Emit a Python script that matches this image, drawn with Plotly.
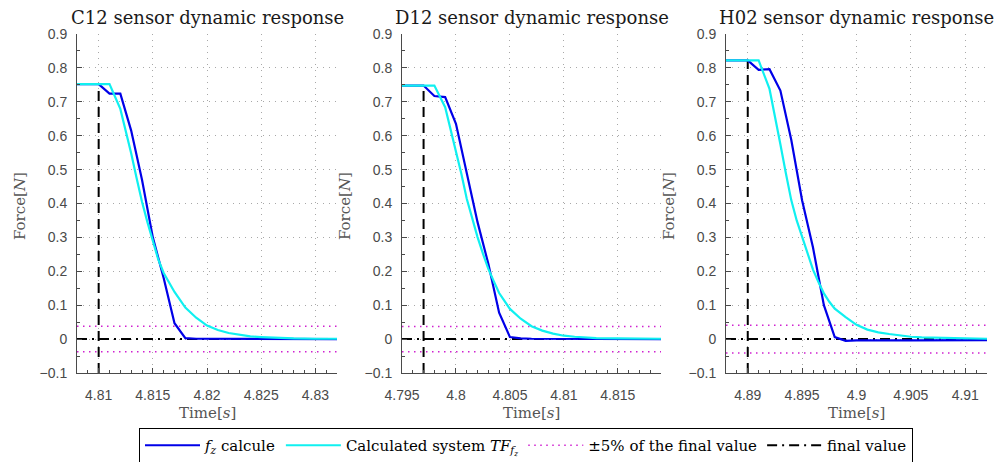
import plotly.graph_objects as go

# ---------------- data ----------------
titles = ["C12 sensor dynamic response", "D12 sensor dynamic response", "H02 sensor dynamic response"]

# C12
c12_fz_t = [4.808, 4.809, 4.810, 4.811, 4.812, 4.813, 4.814, 4.815, 4.816, 4.817, 4.818, 4.819, 4.820, 4.822, 4.826, 4.832]
c12_fz_v = [0.752, 0.752, 0.752, 0.724, 0.724, 0.615, 0.470, 0.300, 0.180, 0.047, 0.003, 0.001, 0.001, 0.000, 0.000, 0.000]
c12_tf_t = [4.808, 4.811, 4.812, 4.8125, 4.813, 4.8135, 4.814, 4.8145, 4.815, 4.8155, 4.816, 4.8165, 4.817,
            4.818, 4.819, 4.820, 4.821, 4.822, 4.823, 4.824, 4.825, 4.826, 4.828, 4.830, 4.832]
c12_tf_v = [0.752, 0.752, 0.679, 0.615, 0.548, 0.475, 0.405, 0.345, 0.290, 0.235, 0.195, 0.165, 0.139,
            0.093, 0.063, 0.040, 0.027, 0.018, 0.012, 0.008, 0.006, 0.004, 0.002, 0.001, 0.001]

# D12
d12_fz_t = [4.795, 4.797, 4.798, 4.799, 4.800, 4.801, 4.802, 4.803, 4.804, 4.805, 4.806, 4.807, 4.819]
d12_fz_v = [0.748, 0.748, 0.717, 0.714, 0.635, 0.493, 0.345, 0.222, 0.078, 0.006, 0.002, 0.001, 0.000]
d12_tf_t = [4.795, 4.798, 4.799, 4.7995, 4.800, 4.8005, 4.801, 4.8015, 4.802, 4.8025, 4.803, 4.8035, 4.804,
            4.805, 4.806, 4.807, 4.808, 4.809, 4.810, 4.811, 4.812, 4.813, 4.815, 4.817, 4.819]
d12_tf_v = [0.748, 0.748, 0.684, 0.620, 0.557, 0.488, 0.414, 0.355, 0.301, 0.252, 0.207, 0.171, 0.136,
            0.089, 0.060, 0.038, 0.025, 0.016, 0.010, 0.007, 0.005, 0.003, 0.002, 0.001, 0.001]

# H02
h02_fz_t = [4.888, 4.890, 4.891, 4.892, 4.893, 4.894, 4.895, 4.896, 4.897, 4.898, 4.899, 4.900, 4.905, 4.912]
h02_fz_v = [0.822, 0.822, 0.794, 0.796, 0.733, 0.588, 0.409, 0.270, 0.100, 0.006, -0.005, -0.004, -0.004, -0.003]
h02_tf_t = [4.888, 4.891, 4.892, 4.8925, 4.893, 4.8935, 4.894, 4.8945, 4.895, 4.8955, 4.896, 4.8965, 4.897,
            4.8975, 4.898, 4.899, 4.900, 4.901, 4.902, 4.903, 4.904, 4.905, 4.906, 4.908, 4.910, 4.912]
h02_tf_v = [0.822, 0.822, 0.738, 0.660, 0.575, 0.490, 0.410, 0.350, 0.300, 0.250, 0.205, 0.168, 0.135,
            0.110, 0.090, 0.065, 0.042, 0.028, 0.020, 0.015, 0.010, 0.007, 0.005, 0.003, 0.002, 0.001]

fz_t = [c12_fz_t, d12_fz_t, h02_fz_t]
fz_v = [c12_fz_v, d12_fz_v, h02_fz_v]
tf_t = [c12_tf_t, d12_tf_t, h02_tf_t]
tf_v = [c12_tf_v, d12_tf_v, h02_tf_v]

x_ranges = [[4.808, 4.832], [4.795, 4.819], [4.888, 4.912]]
start_time = [4.810, 4.797, 4.890]       # vertical dashed marker
start_value = [0.752, 0.748, 0.822]
band_5pct = [0.0376, 0.0374, 0.041]       # +/-5% of the final value
final_value = [0.0, 0.0, 0.0]

x_tickvals = [[4.81, 4.815, 4.82, 4.825, 4.83],
              [4.795, 4.8, 4.805, 4.81, 4.815],
              [4.89, 4.895, 4.9, 4.905, 4.91]]
x_ticktext = [["4.81", "4.815", "4.82", "4.825", "4.83"],
              ["4.795", "4.8", "4.805", "4.81", "4.815"],
              ["4.89", "4.895", "4.9", "4.905", "4.91"]]
y_tickvals = [0.9, 0.8, 0.7, 0.6, 0.5, 0.4, 0.3, 0.2, 0.1, 0.0, -0.1]
y_ticktext = ["0.9", "0.8", "0.7", "0.6", "0.5", "0.4", "0.3", "0.2", "0.1", "0", "\u22120.1"]

legend_names = ["<i>f</i><sub><i>z</i></sub> calcule",
                "Calculated system <i>TF</i><sub><i>f</i><sub><i>z</i></sub></sub>",
                "\u00b15% of the final value",
                "final value"]

# ---------------- styling ----------------
W, H = 997, 462
x_dom_px = [(77, 337), (402, 661), (726, 987)]
y_dom_px = (34, 373)
SERIF = "DejaVu Serif"
SANS = "Liberation Sans"
AXC = "#4a4a4a"
BLUE = "#0000e8"
CYAN = "#10f0f0"
MAG = "#d020d0"


def serif(txt):
    return f'<span style="font-family:\'{SERIF}\', serif">{txt}</span>'


fig = go.Figure()

for i in range(3):
    xa = "x" if i == 0 else f"x{i+1}"
    ya = "y" if i == 0 else f"y{i+1}"
    x0, x1 = x_ranges[i]
    first = (i == 0)
    fig.add_trace(go.Scatter(x=[x0, x1], y=[band_5pct[i], band_5pct[i]], mode="lines",
                             line=dict(color=MAG, width=1.5, dash="1.5px,4.5px"),
                             name=serif(legend_names[2]), legendrank=3, showlegend=first,
                             xaxis=xa, yaxis=ya, hoverinfo="skip"))
    fig.add_trace(go.Scatter(x=[x0, x1], y=[-band_5pct[i], -band_5pct[i]], mode="lines",
                             line=dict(color=MAG, width=1.5, dash="1.5px,4.5px"),
                             showlegend=False, xaxis=xa, yaxis=ya, hoverinfo="skip"))
    fig.add_trace(go.Scatter(x=[x0, x1], y=[final_value[i], final_value[i]], mode="lines",
                             line=dict(color="black", width=2, dash="10px,5px,2px,5px"),
                             name=serif(legend_names[3]), legendrank=4, showlegend=first,
                             xaxis=xa, yaxis=ya, hoverinfo="skip"))
    fig.add_trace(go.Scatter(x=[start_time[i], start_time[i]], y=[-0.1, start_value[i]], mode="lines",
                             line=dict(color="black", width=2, dash="10px,6px"),
                             showlegend=False, xaxis=xa, yaxis=ya, hoverinfo="skip"))
    fig.add_trace(go.Scatter(x=fz_t[i], y=fz_v[i], mode="lines",
                             line=dict(color=BLUE, width=2.2),
                             name=serif(legend_names[0]), legendrank=1, showlegend=first,
                             xaxis=xa, yaxis=ya))
    fig.add_trace(go.Scatter(x=tf_t[i], y=tf_v[i], mode="lines",
                             line=dict(color=CYAN, width=2.2),
                             name=serif(legend_names[1]), legendrank=2, showlegend=first,
                             xaxis=xa, yaxis=ya))

layout = dict(
    width=W, height=H,
    font=dict(family=SERIF, size=15, color="black"),
    margin=dict(l=0, r=0, t=0, b=0, autoexpand=False),
    paper_bgcolor="white", plot_bgcolor="white",
    showlegend=True,
    legend=dict(orientation="h", x=526 / W, xanchor="center", y=1 - 445.5 / H, yanchor="middle",
                bordercolor="black", borderwidth=1, bgcolor="white",
                font=dict(family=SERIF, size=15, color="black"),
                itemwidth=55, traceorder="normal", tracegroupgap=0),
    annotations=[],
)

for i in range(3):
    xk = "xaxis" if i == 0 else f"xaxis{i+1}"
    yk = "yaxis" if i == 0 else f"yaxis{i+1}"
    ya = "y" if i == 0 else f"y{i+1}"
    xa = "x" if i == 0 else f"x{i+1}"
    xd = [x_dom_px[i][0] / W, x_dom_px[i][1] / W]
    yd = [1 - y_dom_px[1] / H, 1 - y_dom_px[0] / H]
    layout[xk] = dict(domain=xd, range=x_ranges[i], anchor=ya,
                      tickmode="array", tickvals=x_tickvals[i], ticktext=x_ticktext[i],
                      ticks="inside", ticklen=5, tickwidth=1, tickcolor=AXC,
                      showline=True, linecolor=AXC, linewidth=1, mirror=False,
                      showgrid=True, gridcolor="#a8a8a8", gridwidth=1, griddash="1px,5px",
                      zeroline=False, ticklabelstandoff=9,
                      minor=dict(dtick=0.001, tick0=x_tickvals[i][0], ticks="inside", ticklen=3,
                                 tickcolor=AXC, showgrid=False),
                      tickfont=dict(family=SANS, size=14, color=AXC))
    layout[yk] = dict(domain=yd, range=[-0.1, 0.9], anchor=xa,
                      tickmode="array", tickvals=y_tickvals, ticktext=y_ticktext,
                      ticks="inside", ticklen=5, tickwidth=1, tickcolor=AXC,
                      showline=True, linecolor=AXC, linewidth=1, mirror=False,
                      showgrid=True, gridcolor="#a8a8a8", gridwidth=1, griddash="1px,5px",
                      zeroline=False, ticklabelstandoff=6,
                      minor=dict(dtick=0.05, tick0=0, ticks="inside", ticklen=3,
                                 tickcolor=AXC, showgrid=False),
                      tickfont=dict(family=SANS, size=14, color=AXC))
    cx = (x_dom_px[i][0] + x_dom_px[i][1]) / 2 / W
    layout["annotations"].append(dict(text=titles[i], x=cx, y=1 - 17 / H, xref="paper", yref="paper",
                                      xanchor="center", yanchor="middle", showarrow=False,
                                      font=dict(family=SERIF, size=18, color="#1a1a1a")))
    layout["annotations"].append(dict(text="Time[<i>s</i>]", x=cx, y=1 - 413 / H, xref="paper", yref="paper",
                                      xanchor="center", yanchor="middle", showarrow=False,
                                      font=dict(family=SERIF, size=15, color="#555555")))
    layout["annotations"].append(dict(text="Force[<i>N</i>]", x=(x_dom_px[i][0] - 57) / W,
                                      y=1 - 206 / H, xref="paper", yref="paper",
                                      xanchor="center", yanchor="middle", showarrow=False, textangle=-90,
                                      font=dict(family=SERIF, size=15, color="#555555")))

fig.update_layout(**layout)
fig.write_html("out.html")
